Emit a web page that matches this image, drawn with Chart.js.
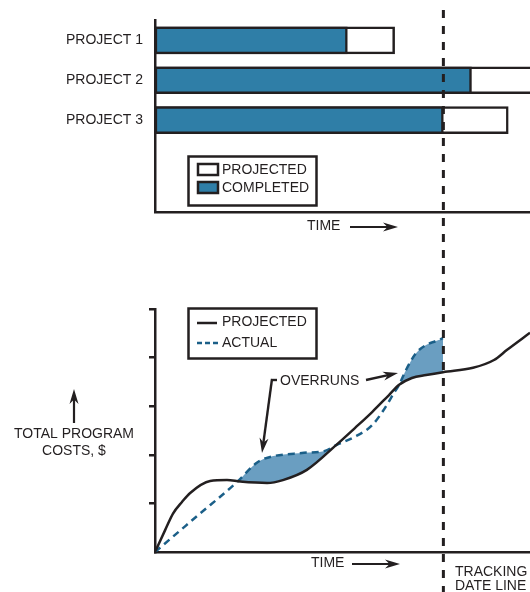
<!DOCTYPE html>
<html><head><meta charset="utf-8">
<script src="https://cdn.jsdelivr.net/npm/chart.js@4.4.1/dist/chart.umd.min.js"></script>
<style>
html,body{margin:0;padding:0;background:#fff;}
#wrap{position:relative;width:530px;height:592px;overflow:hidden;background:#fff;}
#c1{position:absolute;left:0;top:0;}
#c2{position:absolute;left:0;top:270px;}
</style></head><body>
<div id="wrap">
<canvas id="c1" width="530" height="270"></canvas>
<canvas id="c2" width="530" height="322"></canvas>
</div>
<script>
// ---- data ----
const projects = ['PROJECT 1', 'PROJECT 2', 'PROJECT 3'];
const completedTime = [51.3, 84.4, 76.9];
const projectedTime = [63.9, 108, 94.2];
const trackingDate = 76.9;

const projTime = [0, 2.7, 4.8, 7.2, 9.3, 14.7, 19.2, 22.7, 29.9, 34.1, 40.5, 48.3, 53.3, 57.9, 62.4, 65.1, 68.5, 72.3, 76.8, 84.8, 90.4, 93.9, 100];
const projCost = [0, 0.45, 0.79, 1.03, 1.21, 1.46, 1.48, 1.45, 1.42, 1.48, 1.69, 2.20, 2.55, 2.88, 3.23, 3.44, 3.58, 3.64, 3.70, 3.79, 3.95, 4.16, 4.51];
const actTime = [0, 11.0, 22.0, 26.7, 28.8, 39.7, 45.3, 48.3, 53.3, 57.9, 61.3, 63.7, 65.1, 66.9, 69.6, 72.3, 74.9, 76.8];
const actCost = [0, 0.725, 1.45, 1.81, 1.91, 2.04, 2.08, 2.20, 2.37, 2.61, 2.96, 3.27, 3.44, 3.74, 4.09, 4.26, 4.34, 4.40];

const costTicks = [0, 1, 2, 3, 4, 5];

// ---- styles ----
const DARK = '#231f20';
const BLUE = '#2f7ea7';
const LINEBLUE = '#1b5f88';
const FILLBLUE = '#6a9ec1';
const FONT = '14px "Liberation Sans", Arial, Helvetica, sans-serif';

function arrow(ctx, x1, y1, x2, y2, len, w) {
  len = len || 13; w = w || 4.5;
  const a = Math.atan2(y2 - y1, x2 - x1);
  const bx = x2 - len * Math.cos(a), by = y2 - len * Math.sin(a);
  ctx.beginPath();
  ctx.moveTo(x1, y1);
  ctx.lineTo(x2 - (len * 0.6) * Math.cos(a), y2 - (len * 0.6) * Math.sin(a));
  ctx.stroke();
  ctx.beginPath();
  ctx.moveTo(x2, y2);
  ctx.lineTo(bx + w * Math.sin(a), by - w * Math.cos(a));
  ctx.lineTo(x2 - len * 0.7 * Math.cos(a), y2 - len * 0.7 * Math.sin(a));
  ctx.lineTo(bx - w * Math.sin(a), by + w * Math.cos(a));
  ctx.closePath();
  ctx.fill();
}

function trackingLine(chart, y0, offset) {
  const ctx = chart.ctx;
  const x = chart.scales.x.getPixelForValue(trackingDate);
  ctx.save();
  ctx.strokeStyle = DARK;
  ctx.lineWidth = 3;
  ctx.setLineDash([8, 8]);
  ctx.lineDashOffset = offset;
  ctx.beginPath();
  ctx.moveTo(x, y0);
  ctx.lineTo(x, chart.height);
  ctx.stroke();
  ctx.restore();
}

const topDecor = {
  id: 'topDecor',
  afterDraw(chart) {
    const ctx = chart.ctx;
    ctx.save();
    ctx.strokeStyle = DARK; ctx.fillStyle = DARK; ctx.lineWidth = 2.5;
    // legend box
    ctx.fillStyle = '#fff';
    ctx.fillRect(188, 156, 129, 50);
    ctx.strokeRect(188.5, 156.5, 128, 49);
    ctx.fillStyle = '#fff';
    ctx.fillRect(198, 164, 20, 11);
    ctx.strokeRect(198, 164, 20, 11);
    ctx.fillStyle = BLUE;
    ctx.fillRect(198, 182, 20, 11);
    ctx.strokeRect(198, 182, 20, 11);
    ctx.fillStyle = DARK;
    ctx.font = FONT; ctx.textBaseline = 'middle'; ctx.textAlign = 'left';
    ctx.fillText('PROJECTED', 222, 170);
    ctx.fillText('COMPLETED', 222, 188);
    // time arrow
    ctx.fillText('TIME', 307, 226);
    ctx.lineWidth = 2.2;
    arrow(ctx, 350, 227, 398, 227, 15, 4.5);
    ctx.restore();
    trackingLine(chart, 10, 0);
  }
};

const botDecor = {
  id: 'botDecor',
  afterDraw(chart) {
    const ctx = chart.ctx;
    const oy = 270;
    ctx.save();
    ctx.strokeStyle = DARK; ctx.fillStyle = DARK; ctx.lineWidth = 2.5;
    // legend box
    ctx.fillStyle = '#fff';
    ctx.fillRect(188, 308 - oy, 129, 51);
    ctx.strokeRect(188.5, 308.5 - oy, 128, 50);
    ctx.beginPath();
    ctx.moveTo(197, 323 - oy); ctx.lineTo(217, 323 - oy); ctx.stroke();
    ctx.strokeStyle = LINEBLUE;
    ctx.setLineDash([5, 3]);
    ctx.beginPath();
    ctx.moveTo(197, 343 - oy); ctx.lineTo(218, 343 - oy); ctx.stroke();
    ctx.setLineDash([]);
    ctx.strokeStyle = DARK;
    ctx.fillStyle = DARK;
    ctx.font = FONT; ctx.textBaseline = 'middle'; ctx.textAlign = 'left';
    ctx.fillText('PROJECTED', 222, 322 - oy);
    ctx.fillText('ACTUAL', 222, 343 - oy);
    // y label
    ctx.textAlign = 'center';
    ctx.fillText('TOTAL PROGRAM', 74, 434 - oy);
    ctx.fillText('COSTS, $', 74, 451 - oy);
    ctx.lineWidth = 2.2;
    arrow(ctx, 74, 423 - oy, 74, 389 - oy, 15, 4.5);
    // time arrow
    ctx.textAlign = 'left';
    ctx.fillText('TIME', 311, 563 - oy);
    arrow(ctx, 352, 564 - oy, 400, 564 - oy, 15, 4.5);
    // tracking date label
    ctx.fillText('TRACKING', 455, 572 - oy);
    ctx.fillText('DATE LINE', 455, 586 - oy);
    // overruns callout
    ctx.fillText('OVERRUNS', 280, 381 - oy);
    ctx.lineWidth = 2.4;
    ctx.beginPath();
    ctx.moveTo(277, 380 - oy); ctx.lineTo(271, 380 - oy); ctx.stroke();
    arrow(ctx, 272, 379 - oy, 262, 453 - oy, 15, 4.5);
    arrow(ctx, 366, 380 - oy, 398, 373 - oy, 15, 4.5);
    ctx.restore();
    trackingLine(chart, 0, 4);
  }
};

// ---- top chart: project bars ----
new Chart(document.getElementById('c1'), {
  type: 'bar',
  data: {
    datasets: [
      {
        label: 'COMPLETED',
        data: projects.map((p, i) => ({ x: completedTime[i], y: i })),
        backgroundColor: BLUE, borderColor: DARK, borderWidth: 2.5,
        borderSkipped: false, barThickness: 27, grouped: false
      },
      {
        label: 'PROJECTED',
        data: projects.map((p, i) => ({ x: projectedTime[i], y: i })),
        backgroundColor: '#ffffff', borderColor: DARK, borderWidth: 2.5,
        borderSkipped: false, barThickness: 27, grouped: false
      }
    ]
  },
  options: {
    indexAxis: 'y',
    responsive: false,
    animation: false,
    events: [],
    layout: { padding: { top: 20, left: 0, right: 0, bottom: 0 } },
    plugins: { legend: { display: false }, tooltip: { enabled: false } },
    scales: {
      x: {
        type: 'linear', min: 0, max: 100,
        grid: { display: false, drawTicks: false },
        ticks: { display: false },
        border: { display: true, color: DARK, width: 2.5 },
        afterFit(s) { s.height = 58; }
      },
      y: {
        type: 'linear', min: -0.5, max: 4.3, reverse: true, offset: false,
        grid: { display: false, drawTicks: false, offset: false },
        border: { display: true, color: DARK, width: 2.5 },
        afterBuildTicks(s) { s.ticks = projects.map((p, i) => ({ value: i })); },
        ticks: {
          padding: 12, color: DARK,
          font: { family: '"Liberation Sans", Arial, Helvetica, sans-serif', size: 14 },
          callback: (v) => projects[v] || ''
        },
        afterFit(s) { s.width = 155; }
      }
    }
  },
  plugins: [topDecor]
});

// ---- bottom chart: cost curves ----
new Chart(document.getElementById('c2'), {
  type: 'line',
  data: {
    datasets: [
      {
        label: 'PROJECTED',
        data: projTime.map((t, i) => ({ x: t, y: projCost[i] })),
        borderColor: DARK, borderWidth: 2.5, pointRadius: 0,
        cubicInterpolationMode: 'monotone', fill: false
      },
      {
        label: 'ACTUAL',
        data: actTime.map((t, i) => ({ x: t, y: actCost[i] })),
        borderColor: LINEBLUE, borderWidth: 2.5, borderDash: [7, 5], pointRadius: 0,
        cubicInterpolationMode: 'monotone',
        fill: { target: 0, above: FILLBLUE, below: 'rgba(0,0,0,0)' }
      }
    ]
  },
  options: {
    responsive: false,
    animation: false,
    events: [],
    layout: { padding: { top: 39, left: 0, right: 0, bottom: 0 } },
    plugins: { legend: { display: false }, tooltip: { enabled: false } },
    scales: {
      x: {
        type: 'linear', min: 0, max: 100,
        grid: { display: false, drawTicks: false },
        ticks: { display: false },
        border: { display: true, color: DARK, width: 2.5 },
        afterFit(s) { s.height = 40; }
      },
      y: {
        type: 'linear', min: 0, max: 5,
        afterBuildTicks(s) { s.ticks = costTicks.map(v => ({ value: v })); },
        grid: {
          display: true, drawOnChartArea: false, drawTicks: true, tickLength: 6,
          lineWidth: 2.5,
          color: (c) => (c.tick && c.tick.value === 0) ? 'rgba(0,0,0,0)' : DARK
        },
        ticks: { display: false },
        border: { display: true, color: DARK, width: 2.5 },
        afterFit(s) { s.width = 155; }
      }
    }
  },
  plugins: [botDecor]
});
</script>
</body></html>
